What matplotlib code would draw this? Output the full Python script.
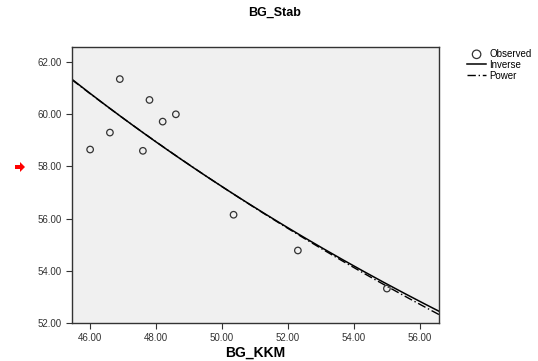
import numpy as np
import matplotlib.pyplot as plt
from matplotlib.patches import FancyArrow

plt.rcParams['font.family'] = ['Liberation Sans', 'DejaVu Sans']

bg_kkm = [46.0, 46.6, 46.9, 47.6, 47.8, 48.2, 48.6, 50.35, 52.3, 55.0]
bg_stab = [58.65, 59.3, 61.35, 58.6, 60.55, 59.72, 60.0, 56.15, 54.78, 53.32]

x = np.array(bg_kkm)
y = np.array(bg_stab)

# inverse model y = b0 + b1/x
A = np.column_stack([np.ones_like(x), 1 / x])
b_inv = np.linalg.lstsq(A, y, rcond=None)[0]
# power model y = b0 * x^b1 (fit in log space)
pw = np.polyfit(np.log(x), np.log(y), 1)

xm = np.linspace(45.45, 56.58, 200)
y_inv = b_inv[0] + b_inv[1] / xm
y_pow = np.exp(pw[1]) * xm ** pw[0]

fig = plt.figure(figsize=(5.38, 3.61), dpi=100)
ax = fig.add_axes([72 / 538, 1 - 323 / 361, 367 / 538, 276 / 361])
ax.set_facecolor('#f0f0f0')

ax.plot(xm, y_inv, '-', color='black', lw=1.1, label='Inverse')
ax.plot(xm, y_pow, color='black', lw=1.0, dashes=[6, 2, 1, 2], label='Power')
ax.scatter(x, y, s=22, facecolors='none', edgecolors='#333333', linewidths=0.9,
           label='Observed', zorder=3)

ax.set_xlim(45.45, 56.58)
ax.set_ylim(52.0, 62.58)
ax.set_xticks([46, 48, 50, 52, 54, 56])
ax.set_yticks([52, 54, 56, 58, 60, 62])
ax.xaxis.set_major_formatter(lambda v, p: f"{v:.2f}")
ax.yaxis.set_major_formatter(lambda v, p: f"{v:.2f}")
ax.tick_params(labelsize=7, length=4, width=0.8, colors='#333333', labelcolor='#333333')
for s in ax.spines.values():
    s.set_color('#333333')
    s.set_linewidth(1.0)

ax.set_xlabel('BG_KKM', fontsize=10, fontweight='bold', labelpad=2)
fig.text(275 / 538, 1 - 13 / 361, 'BG_Stab', ha='center', va='center',
         fontsize=9, fontweight='bold')

h, l = ax.get_legend_handles_labels()
order = [2, 0, 1]
fig.legend([h[i] for i in order], [l[i] for i in order], loc='upper left',
           bbox_to_anchor=(462 / 538, 1 - 44 / 361), frameon=False, fontsize=7,
           handlelength=2.0, handletextpad=0.3, labelspacing=0.1, borderpad=0,
           markerscale=1.3)

fig.patches.append(FancyArrow(15 / 538, 1 - 167 / 361, 10 / 538, 0, width=4 / 361,
                              head_width=10 / 361, head_length=5 / 538,
                              length_includes_head=True, color='red', lw=0,
                              transform=fig.transFigure, figure=fig))

fig.savefig('out.png')
